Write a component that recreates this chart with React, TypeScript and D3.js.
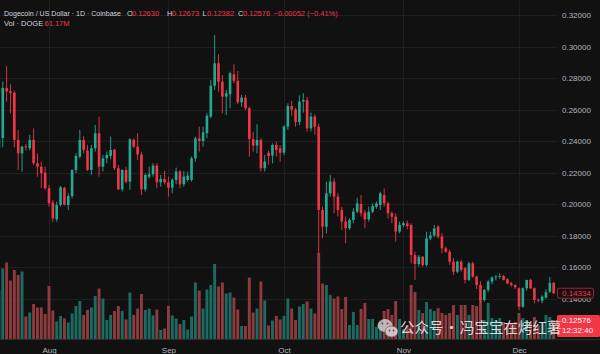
import React, { useRef, useEffect } from "react";
import * as d3 from "d3";

// daily candles, first one is Jul 19 2025
const firstDay = Date.UTC(2025, 6, 19);

// Jul 19-31 | Aug | Sep | Oct | Nov | Dec 1-10
const opens = [
  0.2354, 0.2419, 0.2737, 0.2715, 0.2707, 0.2407, 0.2322, 0.2366, 0.2354, 0.2407, 0.2259, 0.2237, 0.2199,
  0.21, 0.2009, 0.1903, 0.1994, 0.2103, 0.1994, 0.2051, 0.2216, 0.2301, 0.2407, 0.2339, 0.2216, 0.2354, 0.2449, 0.2237, 0.229,
  0.2305, 0.2345, 0.2227, 0.2093, 0.2216, 0.2142, 0.2407, 0.2364, 0.2315, 0.2093, 0.2174, 0.2189, 0.2244, 0.2138, 0.2159,
  0.2138, 0.2104, 0.2153, 0.2206, 0.2125, 0.2153, 0.2153, 0.229, 0.2417, 0.24, 0.2449, 0.2555, 0.2751, 0.2893, 0.2777,
  0.2682, 0.2697, 0.2823, 0.2781, 0.2646, 0.2675, 0.2608, 0.2413, 0.2371, 0.2407, 0.2227, 0.2325, 0.2308, 0.2375, 0.2354,
  0.2326, 0.2491, 0.2622, 0.26, 0.252, 0.265, 0.266, 0.248, 0.2555, 0.2491, 0.1962, 0.1856, 0.2068, 0.2142, 0.2047, 0.1962,
  0.1888, 0.1846, 0.1899, 0.1952, 0.2, 0.1945, 0.1903, 0.1951, 0.1983, 0.1994, 0.2057, 0.2004, 0.1941, 0.192, 0.1825,
  0.1865, 0.1877, 0.1867, 0.1676, 0.1619, 0.1665, 0.1613, 0.1782, 0.18, 0.1856, 0.1793, 0.1719, 0.1697, 0.1634, 0.157,
  0.1634, 0.1592, 0.1518, 0.1623, 0.1539, 0.1486, 0.1391, 0.1454, 0.1507, 0.1534, 0.1539, 0.1543, 0.1522, 0.1496, 0.1486,
  0.1465, 0.1348, 0.1465, 0.1518, 0.1465, 0.1391, 0.1386, 0.1406, 0.1443, 0.1499,
];
const highs = [
  0.245, 0.2777, 0.2876, 0.276, 0.272, 0.247, 0.237, 0.238, 0.2438, 0.248, 0.2322, 0.2269, 0.2237,
  0.2121, 0.2026, 0.2015, 0.2115, 0.211, 0.2068, 0.222, 0.2322, 0.247, 0.243, 0.2375, 0.2375, 0.2502, 0.2555, 0.2311, 0.2333,
  0.2428, 0.235, 0.2248, 0.222, 0.2237, 0.2417, 0.2417, 0.2449, 0.2332, 0.2195, 0.2237, 0.2259, 0.2259, 0.2184, 0.221,
  0.2174, 0.2163, 0.2231, 0.2216, 0.221, 0.2206, 0.2301, 0.2428, 0.2491, 0.2491, 0.2576, 0.2787, 0.3073, 0.295, 0.2819,
  0.2724, 0.284, 0.2887, 0.2845, 0.2692, 0.2692, 0.2618, 0.2459, 0.2506, 0.2417, 0.2311, 0.234, 0.2385, 0.2396, 0.2375,
  0.2502, 0.2639, 0.2656, 0.261, 0.269, 0.2703, 0.268, 0.258, 0.257, 0.251, 0.1983, 0.2142, 0.2184, 0.2163, 0.2068, 0.1983,
  0.192, 0.1909, 0.1973, 0.204, 0.2057, 0.1962, 0.1983, 0.2004, 0.2015, 0.2078, 0.2099, 0.2015, 0.1952, 0.1941, 0.1888,
  0.189, 0.1895, 0.1877, 0.1697, 0.1676, 0.167, 0.1824, 0.1824, 0.1867, 0.1867, 0.1814, 0.173, 0.171, 0.1655, 0.164,
  0.1645, 0.16, 0.1634, 0.1634, 0.1545, 0.151, 0.146, 0.1518, 0.154, 0.155, 0.156, 0.155, 0.153, 0.1505, 0.149,
  0.147, 0.147, 0.1518, 0.1525, 0.147, 0.1401, 0.142, 0.1458, 0.1537, 0.1505,
];
const lows = [
  0.232, 0.236, 0.265, 0.2576, 0.236, 0.2216, 0.2206, 0.234, 0.234, 0.2248, 0.2174, 0.21, 0.2089,
  0.1984, 0.1888, 0.1888, 0.1984, 0.199, 0.1962, 0.2036, 0.2195, 0.229, 0.2322, 0.221, 0.2185, 0.2333, 0.2174, 0.2206, 0.2259,
  0.2284, 0.2216, 0.2089, 0.2079, 0.2131, 0.2089, 0.2354, 0.228, 0.2057, 0.2079, 0.2163, 0.2174, 0.21, 0.211, 0.2125,
  0.2047, 0.2068, 0.2125, 0.21, 0.211, 0.2142, 0.2142, 0.2269, 0.2333, 0.2364, 0.2417, 0.2544, 0.2724, 0.2713, 0.2576,
  0.2565, 0.2608, 0.2766, 0.2633, 0.2618, 0.2597, 0.2301, 0.2332, 0.2322, 0.2206, 0.2206, 0.225, 0.2258, 0.2301, 0.2269,
  0.2311, 0.247, 0.256, 0.249, 0.25, 0.258, 0.246, 0.246, 0.244, 0.168, 0.1782, 0.1814, 0.2047, 0.1941, 0.192, 0.1835,
  0.1751, 0.1835, 0.1878, 0.1941, 0.192, 0.1846, 0.1888, 0.1941, 0.197, 0.1962, 0.1983, 0.1909, 0.1878, 0.1761, 0.1814,
  0.1855, 0.184, 0.1623, 0.1518, 0.1602, 0.16, 0.1602, 0.177, 0.179, 0.1782, 0.1687, 0.169, 0.1613, 0.1549, 0.156,
  0.157, 0.1496, 0.151, 0.153, 0.146, 0.1369, 0.138, 0.144, 0.149, 0.1515, 0.1525, 0.1515, 0.149, 0.1475, 0.146,
  0.1327, 0.134, 0.145, 0.146, 0.1369, 0.1375, 0.137, 0.14, 0.1435, 0.143,
];
const closes = [
  0.2417, 0.2737, 0.2715, 0.2705, 0.2407, 0.2322, 0.2364, 0.236, 0.2407, 0.2259, 0.2237, 0.2195, 0.21,
  0.2005, 0.1909, 0.1994, 0.2106, 0.1996, 0.2051, 0.2216, 0.2305, 0.2407, 0.2343, 0.2216, 0.2354, 0.2449, 0.2237, 0.229, 0.2311,
  0.2343, 0.2227, 0.2093, 0.2216, 0.2142, 0.2411, 0.2364, 0.2315, 0.2093, 0.2184, 0.2189, 0.2244, 0.2138, 0.2159, 0.2138,
  0.2104, 0.2153, 0.2206, 0.2125, 0.2174, 0.218, 0.229, 0.2417, 0.24, 0.2455, 0.2561, 0.2751, 0.2893, 0.2777, 0.2682,
  0.2703, 0.283, 0.2781, 0.2646, 0.2675, 0.2608, 0.2413, 0.2371, 0.2407, 0.2227, 0.2269, 0.2304, 0.2375, 0.2343, 0.2326,
  0.2491, 0.2622, 0.26, 0.252, 0.265, 0.266, 0.248, 0.2555, 0.2491, 0.1962, 0.1856, 0.2068, 0.2142, 0.2047, 0.1962, 0.1888,
  0.1846, 0.1899, 0.1952, 0.2004, 0.1941, 0.1903, 0.1951, 0.1987, 0.2004, 0.2068, 0.2004, 0.1941, 0.192, 0.1825, 0.1867,
  0.1878, 0.186, 0.1676, 0.1619, 0.1665, 0.1613, 0.1782, 0.18, 0.1845, 0.1793, 0.1719, 0.1697, 0.1634, 0.157, 0.1634,
  0.1581, 0.1518, 0.1623, 0.1539, 0.1486, 0.1391, 0.1454, 0.1507, 0.1534, 0.1539, 0.1543, 0.1518, 0.1496, 0.1486, 0.1471,
  0.1348, 0.1465, 0.1518, 0.1465, 0.1391, 0.1386, 0.1412, 0.144, 0.1499, 0.1433,
];
// volume in millions of DOGE
const volumes = [
  980, 1410, 1530, 1170, 1380, 1280, 1350, 450, 530, 700, 630, 630, 500,
  1060, 570, 350, 460, 410, 330, 510, 660, 760, 480, 580, 630, 860, 1010, 810, 380,
  480, 560, 660, 560, 390, 930, 480, 610, 900, 580, 610, 470, 590, 180, 210,
  660, 470, 410, 300, 380, 190, 450, 1130, 970, 610, 990, 1080, 1500, 1050, 1130,
  910, 930, 830, 590, 260, 260, 1230, 530, 610, 1150, 770, 270, 370, 460, 390,
  460, 810, 610, 380, 650, 700, 750, 610, 510, 1720, 1110, 1080, 880, 810, 850, 600,
  840, 280, 540, 280, 600, 720, 400, 400, 240, 280, 560, 600, 480, 760, 400,
  200, 280, 1080, 940, 580, 520, 740, 600, 560, 620, 520, 480, 520, 680, 480,
  680, 680, 480, 680, 660, 840, 380, 720, 420, 380, 420, 340, 320, 320, 340,
  520, 420, 380, 320, 440, 280, 320, 480, 440, 380,
];

const priceTicks = [0.14, 0.16, 0.18, 0.2, 0.22, 0.24, 0.26, 0.28, 0.3, 0.32];
const lastPrice = 0.12576;
const markPrice = 0.14334;

const W = 600;
const H = 354;
const plotRight = 557;
const plotBottom = 339;
const UP = "#22ab94";
const DOWN = "#f23645";
const TEXT = "#b2b5be";
const FONT = "'Liberation Sans', Arial, sans-serif";

const App = () => {
  const ref = useRef(null);

  useEffect(() => {
    document.body.style.margin = "0";
    const svg = d3.select(ref.current);
    svg.selectAll("*").remove();

    const day = 86400000;
    const data = opens.map((o, i) => ({
      date: new Date(firstDay + i * day),
      o,
      h: highs[i],
      l: lows[i],
      c: closes[i],
      v: volumes[i],
    }));

    const x = d3
      .scaleUtc()
      .domain([new Date(Date.UTC(2025, 7, 1)), new Date(Date.UTC(2025, 11, 1))])
      .range([49, 519]);
    const y = d3.scaleLinear().domain([0.14, 0.32]).range([298.5, 15]);
    const yVol = d3.scaleLinear().domain([0, 1720]).range([plotBottom, 253]);

    svg.append("rect").attr("width", W).attr("height", H).attr("fill", "#111111");

    svg
      .append("defs")
      .append("clipPath")
      .attr("id", "plot")
      .append("rect")
      .attr("width", plotRight)
      .attr("height", plotBottom);

    // grid
    const months = x.ticks(d3.utcMonth.every(1));
    svg
      .append("g")
      .selectAll("line")
      .data(priceTicks)
      .join("line")
      .attr("x1", 0)
      .attr("x2", plotRight)
      .attr("y1", (d) => Math.round(y(d)) + 0.5)
      .attr("y2", (d) => Math.round(y(d)) + 0.5)
      .attr("stroke", "#1f1f1f");
    svg
      .append("g")
      .selectAll("line")
      .data(months)
      .join("line")
      .attr("x1", (d) => Math.round(x(d)) + 0.5)
      .attr("x2", (d) => Math.round(x(d)) + 0.5)
      .attr("y1", 0)
      .attr("y2", plotBottom)
      .attr("stroke", "#1f1f1f");

    const plot = svg.append("g").attr("clip-path", "url(#plot)");

    // volume bars
    plot
      .append("g")
      .selectAll("rect")
      .data(data)
      .join("rect")
      .attr("x", (d) => x(d.date) - 1.45)
      .attr("width", 2.9)
      .attr("y", (d) => yVol(d.v))
      .attr("height", (d) => plotBottom - yVol(d.v))
      .attr("fill", (d) => (d.c >= d.o ? "#1b6b62" : "#8f3b3e"));

    // candles
    const candles = plot
      .append("g")
      .selectAll("g")
      .data(data)
      .join("g")
      .attr("fill", (d) => (d.c >= d.o ? UP : DOWN))
      .attr("stroke", (d) => (d.c >= d.o ? UP : DOWN));
    candles
      .append("line")
      .attr("x1", (d) => x(d.date))
      .attr("x2", (d) => x(d.date))
      .attr("y1", (d) => y(d.h))
      .attr("y2", (d) => y(d.l))
      .attr("stroke-width", 0.9);
    candles
      .append("rect")
      .attr("stroke", "none")
      .attr("x", (d) => x(d.date) - 1.3)
      .attr("width", 2.6)
      .attr("y", (d) => y(Math.max(d.o, d.c)))
      .attr("height", (d) => Math.max(0.8, Math.abs(y(d.o) - y(d.c))));

    svg
      .append("line")
      .attr("x1", 0)
      .attr("x2", W)
      .attr("y1", plotBottom + 0.5)
      .attr("y2", plotBottom + 0.5)
      .attr("stroke", "#2a2a2a");

    // time axis
    const xAxis = svg
      .append("g")
      .attr("transform", `translate(0, ${plotBottom + 5})`)
      .call(d3.axisBottom(x).tickValues(months).tickFormat(d3.utcFormat("%b")).tickSize(0));
    xAxis.select(".domain").remove();
    xAxis.selectAll("text").attr("fill", TEXT).style("font-size", "8px").style("font-family", FONT);

    // price axis (the 0.14 label sits mostly under the marker box, as in the original)
    const yAxis = svg
      .append("g")
      .attr("transform", `translate(${plotRight + 1}, 0)`)
      .call(d3.axisRight(y).tickValues(priceTicks.slice(1)).tickFormat(d3.format(".5f")).tickSize(0).tickPadding(4));
    yAxis.select(".domain").remove();
    yAxis.selectAll("text").attr("fill", TEXT).style("font-size", "8px").style("font-family", FONT);

    // 0.14000 peeking out from under the marker label
    svg
      .append("defs")
      .append("clipPath")
      .attr("id", "peek")
      .append("rect")
      .attr("x", 557)
      .attr("y", y(markPrice) + 5)
      .attr("width", 43)
      .attr("height", 8);
    svg
      .append("text")
      .attr("clip-path", "url(#peek)")
      .attr("x", 562)
      .attr("y", y(0.14) + 3)
      .attr("fill", TEXT)
      .style("font-size", "8px")
      .style("font-family", FONT)
      .text(d3.format(".5f")(0.14));

    // marker label
    const my = y(markPrice);
    svg
      .append("rect")
      .attr("x", 557.5)
      .attr("y", my - 5)
      .attr("width", 36)
      .attr("height", 10)
      .attr("rx", 1.5)
      .attr("fill", "#1a1012")
      .attr("stroke", "#8c2b33");
    svg
      .append("text")
      .attr("x", 562)
      .attr("y", my + 3)
      .attr("fill", DOWN)
      .style("font-size", "8px")
      .style("font-family", FONT)
      .text(d3.format(".5f")(markPrice));

    // last price label
    const ly = y(lastPrice);
    svg
      .append("rect")
      .attr("x", 557)
      .attr("y", ly - 6)
      .attr("width", 43)
      .attr("height", 22)
      .attr("rx", 1.5)
      .attr("fill", DOWN);
    svg
      .append("text")
      .attr("x", 562)
      .attr("y", ly + 2.5)
      .attr("fill", "#ffffff")
      .style("font-size", "8px")
      .style("font-family", FONT)
      .text(d3.format(".5f")(lastPrice));
    svg
      .append("text")
      .attr("x", 562)
      .attr("y", ly + 12)
      .attr("fill", "#ffffff")
      .style("font-size", "8px")
      .style("font-family", FONT)
      .text("12:32:40");

    // legend
    const legend = svg.append("g").style("font-family", FONT).style("font-size", "7.5px");
    const put = (tx, ty, s, col) =>
      legend.append("text").attr("x", tx).attr("y", ty).attr("fill", col).text(s);
    put(4, 15.5, "Dogecoin / US Dollar · 1D · Coinbase", "#d1d4dc")
      .style("font-size", "7px")
      .attr("textLength", 117)
      .attr("lengthAdjust", "spacingAndGlyphs");
    put(127, 15.5, "O", "#d1d4dc");
    put(132, 15.5, "0.12630", DOWN);
    put(167, 15.5, "H", "#d1d4dc");
    put(172, 15.5, "0.12673", DOWN);
    put(202.5, 15.5, "L", "#d1d4dc");
    put(207, 15.5, "0.12382", DOWN);
    put(238, 15.5, "C", "#d1d4dc");
    put(243, 15.5, "0.12576", DOWN);
    put(273.5, 15.5, "−0.00052 (−0.41%)", DOWN);
    put(4, 25.5, "Vol · DOGE", "#d1d4dc");
    put(44.5, 25.5, "61.17M", DOWN);

    // watermark
    const wm = svg.append("g").attr("opacity", 0.8);
    wm.append("ellipse").attr("cx", 385).attr("cy", 325.5).attr("rx", 7.5).attr("ry", 6.5).attr("fill", "#d6d6d6");
    wm.append("ellipse")
      .attr("cx", 391.5)
      .attr("cy", 331.5)
      .attr("rx", 6.5)
      .attr("ry", 5.5)
      .attr("fill", "#e6e6e6")
      .attr("stroke", "#555")
      .attr("stroke-width", 0.6);
    [[382.5, 323.5], [387.5, 323.5], [389.5, 330.5], [393.5, 330.5]].forEach(([ex, ey]) =>
      wm.append("circle").attr("cx", ex).attr("cy", ey).attr("r", 0.9).attr("fill", "#555")
    );
    const wmText = (tx, s, anchor = "start") =>
      wm
        .append("text")
        .attr("x", tx)
        .attr("y", 333)
        .attr("text-anchor", anchor)
        .attr("fill", "#ffffff")
        .style("font-family", "'Noto Sans CJK SC', sans-serif")
        .style("font-size", "14.5px")
        .text(s);
    wmText(400, "公众号");
    wmText(451.5, "·", "middle");
    wmText(460, "冯宝宝在烤红薯");
  }, []);

  return (
    <svg ref={ref} width={W} height={H} style={{ display: "block", position: "absolute", left: 0, top: 0 }} />
  );
};

export default App;
